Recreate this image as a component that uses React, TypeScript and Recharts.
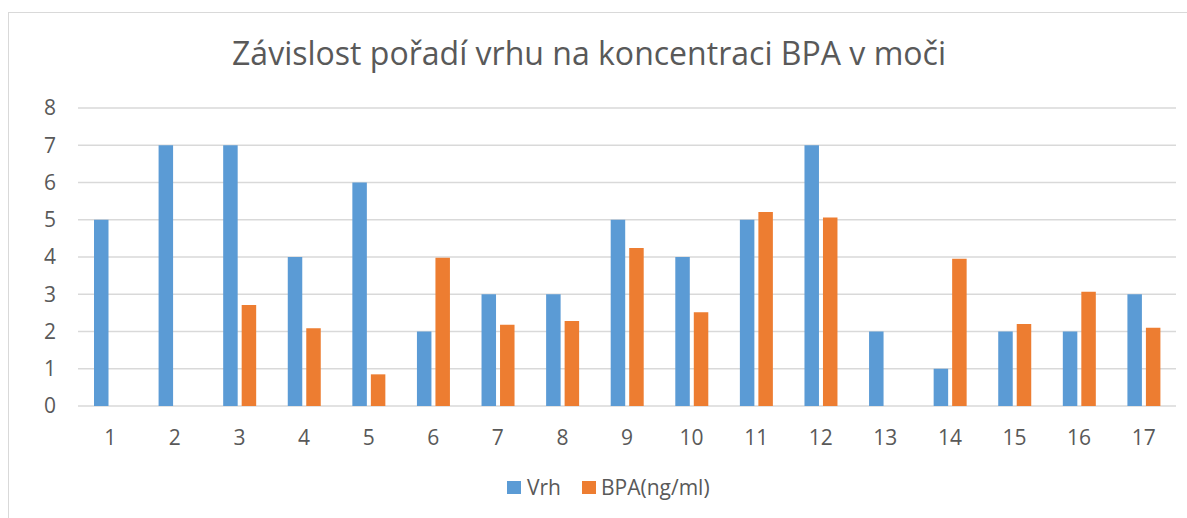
import { BarChart, Bar, XAxis, YAxis, CartesianGrid } from "recharts";

const litters = ["1", "2", "3", "4", "5", "6", "7", "8", "9", "10", "11", "12", "13", "14", "15", "16", "17"];
const vrh = [5, 7, 7, 4, 6, 2, 3, 3, 5, 4, 5, 7, 2, 1, 2, 2, 3];
const bpa = [null, null, 2.71, 2.09, 0.85, 3.98, 2.18, 2.28, 4.24, 2.52, 5.21, 5.06, null, 3.95, 2.2, 3.07, 2.1];
const yTicks = [0, 1, 2, 3, 4, 5, 6, 7, 8];

const BLUE = "#5B9BD5";
const ORANGE = "#ED7D31";
const TEXT = "#595959";
const FONT = "'Open Sans', 'Noto Sans', sans-serif";

const data = litters.map((l, i) => ({ name: l, vrh: vrh[i], bpa: bpa[i] }));

export default function App() {
  return (
    <div
      style={{
        position: "absolute",
        left: 0,
        top: 0,
        width: 1187,
        height: 518,
        overflow: "hidden",
        background: "#fff",
        fontFamily: FONT,
      }}
    >
      {/* chart frame, runs off the right and bottom edge */}
      <div
        style={{
          position: "absolute",
          left: 8,
          top: 12,
          width: 1200,
          height: 540,
          border: "1.5px solid #D9D9D9",
        }}
      />
      <svg style={{ position: "absolute", left: 0, top: 0 }} width={1187} height={90}>
        <text
          x={232}
          y={65}
          textLength={714}
          lengthAdjust="spacingAndGlyphs"
          fontSize={33}
          fill={TEXT}
          fontFamily={FONT}
        >
          Závislost pořadí vrhu na koncentraci BPA v moči
        </text>
      </svg>
      <div style={{ position: "absolute", left: 0, top: 0 }}>
        <BarChart
          width={1187}
          height={518}
          data={data}
          margin={{ top: 108, right: 11, bottom: 82, left: 0 }}
          barSize={14.5}
          barGap={4}
        >
          <CartesianGrid vertical={false} stroke="#D9D9D9" strokeWidth={1.5} />
          <XAxis
            dataKey="name"
            axisLine={false}
            tickLine={false}
            tickSize={0}
            tickMargin={24}
            height={30}
            interval={0}
            tick={{ fontSize: 21, fill: TEXT, fontFamily: FONT }}
          />
          <YAxis
            domain={[0, 8]}
            ticks={yTicks}
            width={78}
            axisLine={false}
            tickLine={false}
            tickSize={0}
            tickMargin={22}
            tick={{ fontSize: 21, fill: TEXT, fontFamily: FONT }}
          />
          <Bar dataKey="vrh" name="Vrh" fill={BLUE} isAnimationActive={false} />
          <Bar dataKey="bpa" name="BPA(ng/ml)" fill={ORANGE} isAnimationActive={false} />
        </BarChart>
      </div>
      <div
        style={{
          position: "absolute",
          left: 507,
          top: 473,
          display: "flex",
          alignItems: "center",
          fontSize: 21,
          color: TEXT,
          lineHeight: "28px",
        }}
      >
        <span style={{ width: 14, height: 13, background: BLUE, display: "inline-block" }} />
        <span style={{ marginLeft: 6 }}>Vrh</span>
        <span style={{ width: 14, height: 13, background: ORANGE, display: "inline-block", marginLeft: 21 }} />
        <span style={{ marginLeft: 5 }}>BPA(ng/ml)</span>
      </div>
    </div>
  );
}
